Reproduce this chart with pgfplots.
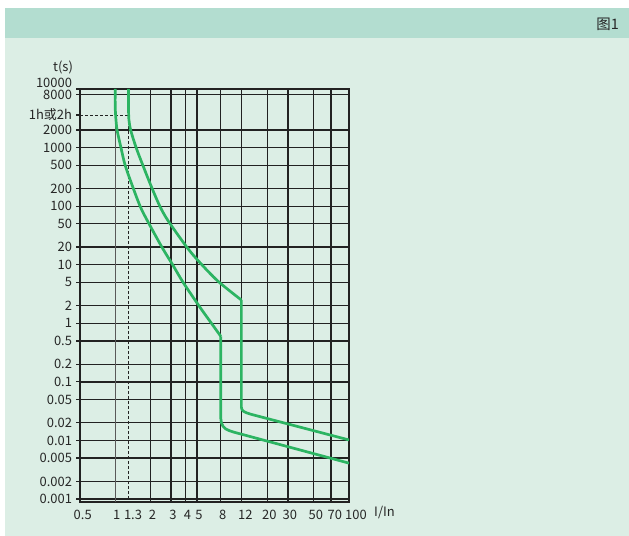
\documentclass[border=0pt]{standalone}
\usepackage{fontspec}
\setmainfont{Noto Sans CJK SC}
\usepackage{pgfplots}
\pgfplotsset{compat=1.18}
\definecolor{bgmint}{HTML}{DCEEE5}
\definecolor{headmint}{HTML}{B3DDD0}
\definecolor{curvegreen}{RGB}{44,180,98}
\definecolor{txt}{HTML}{262626}
\definecolor{gridc}{HTML}{222222}
\begin{document}
\begin{tikzpicture}[x=1bp,y=1bp]
\path[use as bounding box] (0,0) rectangle (629,536);
\fill[white] (0,0) rectangle (629,536);
\fill[bgmint] (5,0) rectangle (629,528);
\fill[headmint] (5,498) rectangle (629,528);
\node[anchor=east, inner sep=0pt, text=txt, font=\fontsize{14.5}{16}\selectfont] at (619,512) {图1};
\begin{axis}[
  at={(80bp,34bp)}, anchor=south west,
  scale only axis, width=269bp, height=413bp,
  xmode=log, ymode=log,
  xmin=0.5, xmax=100, ymin=0.00089, ymax=10000,
  xminorticks=false, yminorticks=false,
  xtick pos=bottom, ytick pos=left,
  xtick={0.5,2,3,4,5,8,12,20,30,50,70,100},
  xticklabels={0.5\kern-1.4bp,2,3,4,5,8,12\kern-4bp,20,30,50,70\kern-4bp,100\kern-10bp},
  extra x ticks={1,1.3},
  extra x tick labels={\kern-1bp 1,1.3\kern-5bp},
  extra x tick style={grid=none},
  ytick={0.001,0.002,0.005,0.01,0.02,0.05,0.1,0.2,0.5,1,2,5,10,20,50,100,200,500,1000,2000,8000,10000},
  yticklabels={0.001,0.002,0.005,0.01,0.02,0.05,0.1,0.2,0.5,1,2,5,10,20,50,100,200,500,1000,2000,8000,\raisebox{1.5bp}[0pt][0pt]{10000}},
  extra y ticks={3600},
  extra y tick labels={1h或2h},
  extra y tick style={grid=none},
  xmajorgrids, ymajorgrids,
  major grid style={gridc, line width=1.25bp},
  axis line style={gridc, line width=1.5bp},
  tick align=outside,
  major tick length=4bp,
  xtick style={draw=none},
  ytick style={gridc, line width=1.2bp},
  every tick label/.append style={font=\fontsize{13}{15}\selectfont, text=txt},
  xticklabel style={xshift=2bp, yshift=-0.5bp},
  yticklabel style={xshift=-0.5bp},
  xlabel={I/In},
  xlabel style={at={(axis description cs:1.132,-0.0266)}, anchor=center, font=\fontsize{13}{15}\selectfont, text=txt},
  ylabel={t(s)},
  ylabel style={at={(axis description cs:-0.063,1.053)}, rotate=-90, anchor=center, font=\fontsize{13}{15}\selectfont, text=txt},
]
\addplot[gray!70!black, line width=0.8bp] coordinates {(1,0.00089) (1,10000)};
\addplot[gridc, line width=0.7bp, dash pattern=on 3bp off 2bp] coordinates {(0.5,3600) (1.3,3600) (1.3,0.00089)};
% left curve (lower)
\addplot[curvegreen, line width=2.7bp, smooth, tension=0.5, line join=round] coordinates {
(1,10000) (1,5000) (1.015,3000) (1.04,1950) (1.12,1000) (1.22,490) (1.43,200) (1.64,98) (1.88,57) (2.52,19.7) (3.13,9.7) (3.81,5) (5.32,1.87) (6.5,1.07) (8,0.6)};
\addplot[curvegreen, line width=2.7bp, line join=round] coordinates {
(8,0.6) (8,0.024) (8.1,0.0200) (8.35,0.0175) (8.8,0.0158) (9.4,0.0148) (10.3,0.0139) (100,0.0041)};
% right curve (upper)
\addplot[curvegreen, line width=2.7bp, smooth, tension=0.5, line join=round] coordinates {
(1.3,10000) (1.3,5000) (1.31,3000) (1.36,1950) (1.51,1000) (1.73,490) (2.07,200) (2.42,98) (2.84,56) (4.12,19.7) (5.32,10.8) (7.6,5.2) (12,2.5)};
\addplot[curvegreen, line width=2.7bp, line join=round] coordinates {
(12,2.5) (12,0.037) (12.15,0.0335) (12.5,0.0315) (13.2,0.0298) (14.3,0.0282) (100,0.0102)};
\end{axis}
\end{tikzpicture}
\end{document}
